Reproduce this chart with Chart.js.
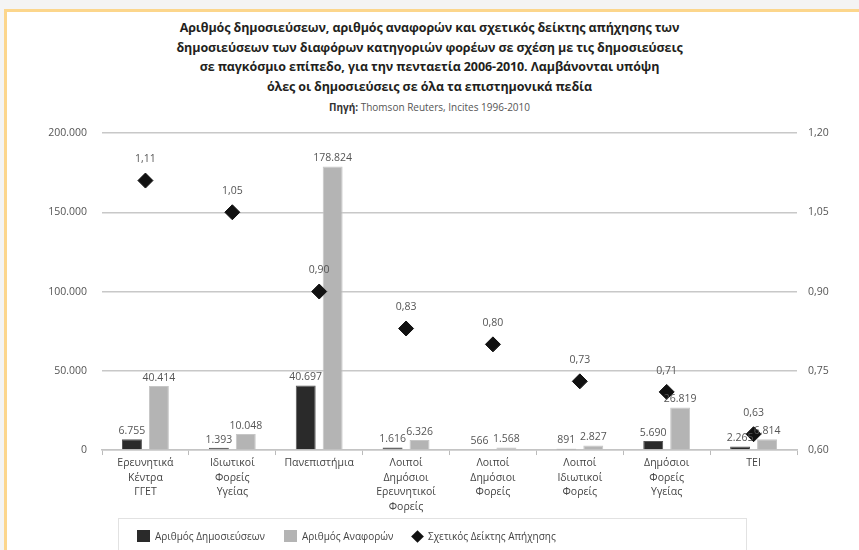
<!DOCTYPE html>
<html lang="el">
<head>
<meta charset="utf-8">
<script src="https://cdn.jsdelivr.net/npm/chart.js@4.4.1/dist/chart.umd.min.js"></script>
<style>
  html, body { margin: 0; padding: 0; }
  body { width: 859px; height: 550px; background: #f4f4f4; position: relative; overflow: hidden; font-family: "Open Sans", sans-serif; }
  #frame { position: absolute; left: 4px; top: 9px; right: 0; bottom: 0; background: #fff;
           border-top: 3px solid #fcd68c; border-left: 3px solid #fcd68c; }
  #title { position: absolute; left: 0; width: 859px; top: 18px; text-align: center;
           font-weight: bold; font-size: 12.5px; line-height: 19.5px; color: #231f20; letter-spacing: -0.1px; }
  #source { position: absolute; left: 0; width: 859px; top: 100px; text-align: center;
            font-size: 10px; color: #555; }
  #source b { color: #333; }
  #chartBox { position: absolute; left: 0; top: 0; width: 859px; height: 550px; }
  #legend { position: absolute; left: 118px; top: 518px; width: 627px; height: 40px;
            border: 1px solid #e2e2e2; font-size: 10px; color: #444; }
  .item { position: absolute; top: 10px; white-space: nowrap; }
  .sw { display: inline-block; width: 13px; height: 12px; vertical-align: -2px; margin-right: 5px; }
  .dia { display: inline-block; width: 9px; height: 9px; background: #111; transform: rotate(45deg);
         margin: 0 6px 0 2px; vertical-align: -1px; }
</style>
</head>
<body>
<div id="frame"></div>
<div id="title">
  Αριθμός δημοσιεύσεων, αριθμός αναφορών και σχετικός δείκτης απήχησης των<br>
  δημοσιεύσεων των διαφόρων κατηγοριών φορέων σε σχέση με τις δημοσιεύσεις<br>
  σε παγκόσμιο επίπεδο, για την πενταετία 2006-2010. Λαμβάνονται υπόψη<br>
  όλες οι δημοσιεύσεις σε όλα τα επιστημονικά πεδία
</div>
<div id="source"><b>Πηγή:</b> Thomson Reuters, Incites 1996-2010</div>
<div id="chartBox"><canvas id="comboChart" width="859" height="550"></canvas></div>
<div id="legend"></div>

<script>
"use strict"

// Κατηγορίες φορέων (πολλές γραμμές ανά ετικέτα)
const categories = [
    ["Ερευνητικά", "Κέντρα", "ΓΓΕΤ"],
    ["Ιδιωτικοί", "Φορείς", "Υγείας"],
    "Πανεπιστήμια",
    ["Λοιποί", "Δημόσιοι", "Ερευνητικοί", "Φορείς"],
    ["Λοιποί", "Δημόσιοι", "Φορείς"],
    ["Λοιποί", "Ιδιωτικοί", "Φορείς"],
    ["Δημόσιοι", "Φορείς", "Υγείας"],
    "ΤΕΙ"
];

const seriesNames = ["Αριθμός Δημοσιεύσεων", "Αριθμός Αναφορών", "Σχετικός Δείκτης Απήχησης"];

// Τιμές
const publications = [6755, 1393, 40697, 1616, 566, 891, 5690, 2265];
const citations = [40414, 10048, 178824, 6326, 1568, 2827, 26819, 6814];
const impactIndex = [1.11, 1.05, 0.90, 0.83, 0.80, 0.73, 0.71, 0.63];

// Άξονες
const leftTicks = [0, 50000, 100000, 150000, 200000];
const rightTicks = [0.60, 0.75, 0.90, 1.05, 1.20];

const darkColor = "#2a2a2a";
const greyColor = "#b4b4b4";
const labelFont = "'Open Sans', sans-serif";

// Μορφοποίηση αριθμών με ελληνικό τρόπο
function thousands(v) {
    return String(v).replace(/\B(?=(\d{3})+(?!\d))/g, ".");
}
function decimal(v) {
    return v.toFixed(2).replace(".", ",");
}

// Ετικέτες τιμών πάνω από τις στήλες και τα σημεία
const valueLabels = {
    id: "valueLabels",
    afterDatasetsDraw(chart) {
        const ctx = chart.ctx;
        ctx.save();
        ctx.font = "10.5px " + labelFont;
        ctx.fillStyle = "#555";
        ctx.textAlign = "center";
        ctx.textBaseline = "bottom";
        chart.data.datasets.forEach((ds, i) => {
            const meta = chart.getDatasetMeta(i);
            meta.data.forEach((el, j) => {
                if (ds.type === "line") {
                    ctx.fillText(decimal(ds.data[j]), el.x, el.y - 16);
                } else {
                    ctx.fillText(thousands(ds.data[j]), el.x, el.y - 3);
                }
            });
        });
        ctx.restore();
    }
};

const ctx = document.getElementById("comboChart");
new Chart(ctx, {
    type: "bar",
    data: {
        labels: categories,
        datasets: [
            {
                type: "line",
                label: seriesNames[2],
                data: impactIndex,
                yAxisID: "y1",
                showLine: false,
                pointStyle: "rectRot",
                pointRadius: 7.5,
                pointBackgroundColor: "#111",
                pointBorderColor: "#111",
                order: 0
            },
            {
                label: seriesNames[0],
                data: publications,
                yAxisID: "y",
                backgroundColor: darkColor,
                borderColor: "#555",
                borderWidth: 1,
                categoryPercentage: 0.62,
                barPercentage: 0.74,
                order: 1
            },
            {
                label: seriesNames[1],
                data: citations,
                yAxisID: "y",
                backgroundColor: greyColor,
                borderColor: "#c6c6c6",
                borderWidth: 1,
                categoryPercentage: 0.62,
                barPercentage: 0.74,
                order: 1
            }
        ]
    },
    options: {
        responsive: false,
        animation: false,
        layout: { padding: { left: 10, right: 10, top: 133, bottom: 35 } },
        plugins: {
            legend: { display: false },
            tooltip: { enabled: false }
        },
        scales: {
            x: {
                grid: { drawOnChartArea: false, drawTicks: true, tickLength: 5, offset: true, color: "#bbb" },
                border: { color: "#c4c4c4", width: 1.5 },
                ticks: {
                    color: "#444",
                    font: { family: labelFont, size: 10.5, lineHeight: 1.38 },
                    maxRotation: 0,
                    autoSkip: false,
                    padding: 1
                }
            },
            y: {
                position: "left",
                min: 0,
                max: 200000,
                afterBuildTicks(scale) { scale.ticks = leftTicks.map(v => ({ value: v })); },
                afterFit(scale) { scale.width = 92; },
                grid: { color: "#c8c8c8", lineWidth: 1.5, drawTicks: false },
                border: { display: false },
                ticks: {
                    color: "#555",
                    padding: 15,
                    font: { family: labelFont, size: 10.5 },
                    callback: v => thousands(v)
                }
            },
            y1: {
                position: "right",
                min: 0.6,
                max: 1.2,
                afterBuildTicks(scale) { scale.ticks = rightTicks.map(v => ({ value: v })); },
                afterFit(scale) { scale.width = 52; },
                grid: { display: false },
                border: { display: false },
                ticks: {
                    color: "#555",
                    padding: 3,
                    font: { family: labelFont, size: 10.5 },
                    callback: v => decimal(v)
                }
            }
        }
    },
    plugins: [valueLabels]
});

// Υπόμνημα
const legendEl = document.getElementById("legend");
const legendPos = [18, 165, 292];
const swatches = [
    '<span class="sw" style="background:' + darkColor + '"></span>',
    '<span class="sw" style="background:' + greyColor + '"></span>',
    '<span class="dia"></span>'
];
seriesNames.forEach((name, i) => {
    const item = document.createElement("div");
    item.className = "item";
    item.style.left = legendPos[i] + "px";
    item.innerHTML = swatches[i] + name;
    legendEl.appendChild(item);
});
</script>
</body>
</html>
